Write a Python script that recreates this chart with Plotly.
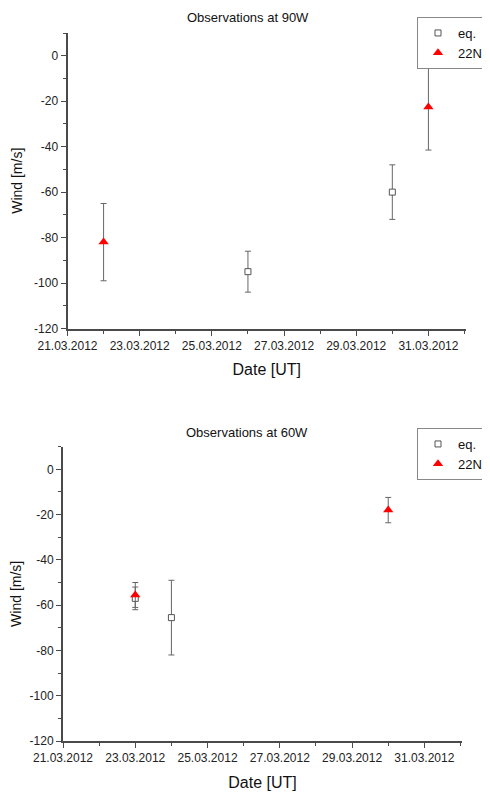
import plotly.graph_objects as go

# ---------------- data ----------------
# Panel 1: Observations at 90W
p1_eq_dates = ["2012-03-26", "2012-03-30"]
p1_eq_wind = [-95, -60]
p1_eq_err = [9, 12]
p1_n22_dates = ["2012-03-22", "2012-03-31"]
p1_n22_wind = [-82, -22.5]
p1_n22_err = [17, 19]

# Panel 2: Observations at 60W
p2_eq_dates = ["2012-03-23", "2012-03-24"]
p2_eq_wind = [-57, -65.5]
p2_eq_err = [5, 16.5]
p2_n22_dates = ["2012-03-23", "2012-03-30"]
p2_n22_wind = [-55.5, -18]
p2_n22_err = [5.5, 5.6]

titles = ["Observations at 90W", "Observations at 60W"]
series_names = ["eq.", "22N"]
y_ticks = [-120, -100, -80, -60, -40, -20, 0]
y_ticktext = ["-120", "-100", "-80", "-60", "-40", "-20", "0"]
x_range = ["2012-03-21", "2012-04-01 01:00"]
y_range = [-120, 10]

# page body has an 8px margin: figure is drawn offset by 8px
OFF = 8
W, H = 490 - OFF, 792 - OFF
FONT = "Liberation Sans, Arial, sans-serif"
AXC = "#4a4a4a"
ERRC = "#666666"

def px(x):
    return (x - OFF) / W

def py(y):
    return 1 - (y - OFF) / H

fig = go.Figure()

panels = [
    (p1_eq_dates, p1_eq_wind, p1_eq_err, p1_n22_dates, p1_n22_wind, p1_n22_err, "x", "y", "legend"),
    (p2_eq_dates, p2_eq_wind, p2_eq_err, p2_n22_dates, p2_n22_wind, p2_n22_err, "x2", "y2", "legend2"),
]
for (ed, ew, ee, nd, nw, ne, xa, ya, lg) in panels:
    fig.add_trace(go.Scatter(
        x=ed, y=ew, mode="markers", name=series_names[0], xaxis=xa, yaxis=ya, legend=lg,
        marker=dict(symbol="square", size=6, color="white", line=dict(color="#555555", width=1)),
        error_y=dict(type="data", array=ee, visible=True, color=ERRC, thickness=1, width=3),
    ))
    fig.add_trace(go.Scatter(
        x=nd, y=nw, mode="markers", name=series_names[1], xaxis=xa, yaxis=ya, legend=lg,
        marker=dict(symbol="triangle-up", size=9, color="#ff0000", line=dict(width=0)),
        error_y=dict(type="data", array=ne, visible=True, color=ERRC, thickness=1, width=3),
    ))

def xaxis(domain, anchor):
    return dict(
        domain=domain, anchor=anchor, type="date", range=x_range, automargin=False,
        tick0="2012-03-21", dtick=2 * 86400000, tickformat="%d.%m.%Y",
        ticks="outside", ticklen=5, tickwidth=1.2, tickcolor=AXC,
        minor=dict(dtick=86400000, ticks="outside", ticklen=3, tickcolor=AXC, tickwidth=1.2),
        showline=True, linecolor=AXC, linewidth=2, showgrid=False, zeroline=False,
        tickfont=dict(family=FONT, size=12, color="#222222"),
        title=dict(text="Date [UT]", font=dict(family=FONT, size=16, color="#111111"), standoff=12),
    )

def yaxis(domain, anchor):
    return dict(
        domain=domain, anchor=anchor, range=y_range, tickvals=y_ticks, ticktext=y_ticktext,
        automargin=False,
        ticks="outside", ticklen=5, tickwidth=1.2, tickcolor=AXC,
        minor=dict(dtick=10, ticks="outside", ticklen=3, tickcolor=AXC, tickwidth=1.2),
        showline=True, linecolor=AXC, linewidth=2, showgrid=False, zeroline=False,
        tickfont=dict(family=FONT, size=12, color="#222222"),
        title=dict(text="Wind [m/s]", font=dict(family=FONT, size=14, color="#111111"), standoff=8),
    )

legend_style = dict(
    bgcolor="white", bordercolor="#888888", borderwidth=1,
    font=dict(family=FONT, size=13, color="#111111"),
    xanchor="right", yanchor="top", tracegroupgap=0, itemwidth=30,
)

fig.update_layout(
    width=W, height=H, margin=dict(l=0, r=0, t=0, b=0, autoexpand=False),
    paper_bgcolor="white", plot_bgcolor="white",
    xaxis=xaxis([px(67.5), px(466)], "y"),
    yaxis=yaxis([py(328.5), py(33)], "x"),
    xaxis2=xaxis([px(63), px(462)], "y2"),
    yaxis2=yaxis([py(741), py(446.7)], "x2"),
    legend=dict(x=px(488), y=py(17), **legend_style),
    legend2=dict(x=px(488), y=py(428), **legend_style),
    annotations=[
        dict(text=titles[0], x=px(248), y=py(17), xref="paper", yref="paper",
             xanchor="center", yanchor="middle",
             showarrow=False, font=dict(family=FONT, size=13, color="#111111")),
        dict(text=titles[1], x=px(246.5), y=py(432.7), xref="paper", yref="paper",
             xanchor="center", yanchor="middle",
             showarrow=False, font=dict(family=FONT, size=13, color="#111111")),
    ],
)

fig.write_html("out.html")
